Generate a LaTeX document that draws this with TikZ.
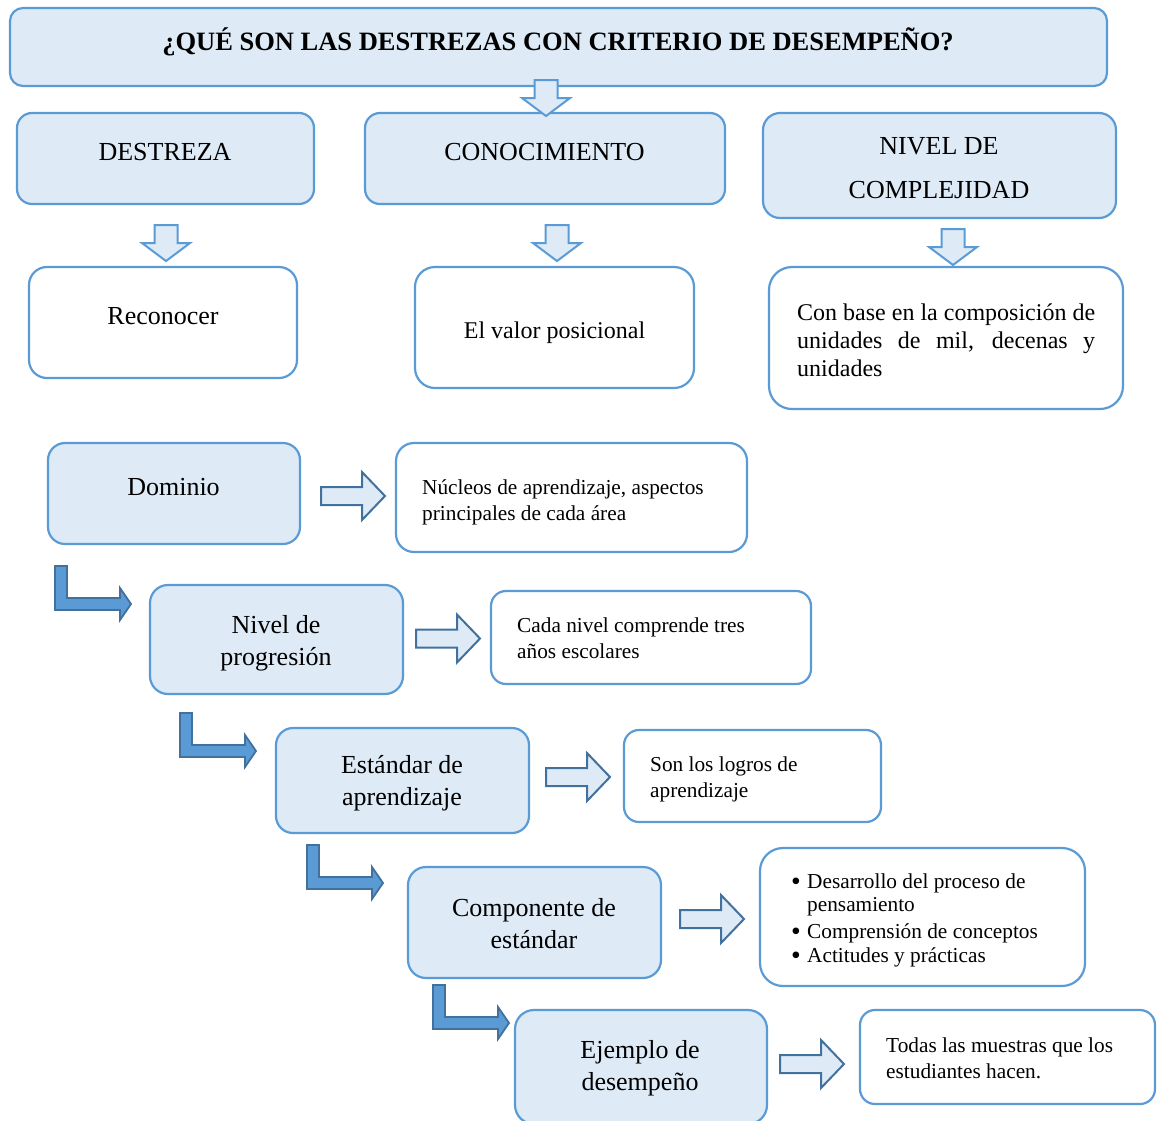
\documentclass[tikz,border=0pt]{standalone}
\usepackage{fontspec}
\setmainfont{Liberation Serif}
\definecolor{lfill}{HTML}{DEEBF7}
\definecolor{bord}{HTML}{5B9BD5}
\definecolor{dbord}{HTML}{41719C}
\newcommand{\bul}{\makebox[16pt][l]{\smash{\raisebox{-2.2pt}{\scalebox{1.3}{•}}}}}
\tikzset{
  fbox/.style={draw=bord, line width=2.2pt, fill=lfill, inner sep=0pt},
  wbox/.style={draw=bord, line width=2.2pt, fill=white, inner sep=0pt},
  txt/.style={inner sep=0pt, text=black},
  bigf/.style={font=\fontsize{26}{31.7}\selectfont},
  midf/.style={font=\fontsize{24}{28.3}\selectfont},
  smallf/.style={font=\fontsize{21.3}{25.5}\selectfont},
  pics/downarrow/.style={code={
    \draw[draw=bord, line width=2pt, fill=lfill, line join=miter]
      (-11.5,0) -- (11.5,0) -- (11.5,18) -- (24,18) -- (0,36) -- (-24,18) -- (-11.5,18) -- cycle;}},
  pics/rightarrow/.style={code={
    \draw[draw=dbord, line width=2pt, fill=lfill, line join=miter]
      (0,-9) -- (41,-9) -- (41,-24) -- (64,0) -- (41,24) -- (41,9) -- (0,9) -- cycle;}},
  pics/bentarrow/.style={code={
    \draw[draw=dbord, line width=1.8pt, fill=bord, line join=miter]
      (0,0) -- (12,0) -- (12,32) -- (65,32) -- (65,22) -- (76,38) -- (65,54) -- (65,44) -- (0,44) -- cycle;}}
}
\begin{document}
\begin{tikzpicture}[x=1pt,y=-1pt]
\path[use as bounding box, fill=white] (0,0) rectangle (1158,1120);
\clip (0,0) rectangle (1158,1120);

% ---- boxes ----
\node[fbox, minimum width=1097pt, minimum height=78pt, rounded corners=13pt] (title) at (558.5,47) {};
\node[fbox, minimum width=297pt, minimum height=91pt, rounded corners=15pt] (destreza) at (165.5,158.5) {};
\node[fbox, minimum width=360pt, minimum height=91pt, rounded corners=15pt] (conoc) at (545,158.5) {};
\node[fbox, minimum width=353pt, minimum height=105pt, rounded corners=17pt] (nivel) at (939.5,165.5) {};
\node[wbox, minimum width=268pt, minimum height=111pt, rounded corners=18pt] (recon) at (163,322.5) {};
\node[wbox, minimum width=279pt, minimum height=121pt, rounded corners=20pt] (valor) at (554.5,327.5) {};
\node[wbox, minimum width=354pt, minimum height=142pt, rounded corners=23pt] (conbase) at (946,338) {};
\node[fbox, minimum width=252pt, minimum height=101pt, rounded corners=17pt] (dominio) at (174,493.5) {};
\node[wbox, minimum width=351pt, minimum height=109pt, rounded corners=18pt] (nucleos) at (571.5,497.5) {};
\node[fbox, minimum width=253pt, minimum height=109pt, rounded corners=18pt] (nivprog) at (276.5,639.5) {};
\node[wbox, minimum width=320pt, minimum height=93pt, rounded corners=15pt] (cada) at (651,637.5) {};
\node[fbox, minimum width=253pt, minimum height=105pt, rounded corners=17pt] (estandar) at (402.5,780.5) {};
\node[wbox, minimum width=257pt, minimum height=92pt, rounded corners=15pt] (logros) at (752.5,776) {};
\node[fbox, minimum width=253pt, minimum height=111pt, rounded corners=18pt] (compon) at (534.5,922.5) {};
\node[wbox, minimum width=325pt, minimum height=138pt, rounded corners=23pt] (bullets) at (922.5,917) {};
\node[fbox, minimum width=252pt, minimum height=114pt, rounded corners=19pt] (ejemplo) at (641,1067) {};
\node[wbox, minimum width=295pt, minimum height=94pt, rounded corners=15pt] (todas) at (1007.5,1057) {};

% ---- texts (multi-line: base = last line) ----
\node[txt, anchor=base, font=\fontsize{26.5}{30}\selectfont\bfseries] (title-t) at (558,50) {¿QUÉ SON LAS DESTREZAS CON CRITERIO DE DESEMPEÑO?};
\node[txt, bigf, anchor=base] (destreza-t) at (165,160) {DESTREZA};
\node[txt, bigf, anchor=base] (conoc-t) at (544.5,160) {CONOCIMIENTO};
\node[txt, anchor=base, align=center, font=\fontsize{26}{44}\selectfont] (nivel-t) at (939,198.5) {NIVEL DE\\COMPLEJIDAD};
\node[txt, bigf, anchor=base] (recon-t) at (163,324) {Reconocer};
\node[txt, midf, anchor=base] (valor-t) at (554.5,338) {El valor posicional};
\node[txt, midf, anchor=base west, text width=298pt, align=justify] (conbase-t) at (797,320)
  {Con base en la composición de\linebreak unidades de mil, decenas y\linebreak unidades};
\node[txt, bigf, anchor=base] (dominio-t) at (173.5,495) {Dominio};
\node[txt, smallf, anchor=base west, align=left] (nucleos-t) at (422,520) {Núcleos de aprendizaje, aspectos\\principales de cada área};
\node[txt, bigf, anchor=base, align=center] (nivprog-t) at (276,665) {Nivel de\\progresión};
\node[txt, smallf, anchor=base west, align=left] (cada-t) at (517,658) {Cada nivel comprende tres\\años escolares};
\node[txt, bigf, anchor=base, align=center] (estandar-t) at (402,805.5) {Estándar de\\aprendizaje};
\node[txt, smallf, anchor=base west, align=left] (logros-t) at (650,797) {Son los logros de\\aprendizaje};
\node[txt, bigf, anchor=base, align=center] (compon-t) at (534,948.5) {Componente de\\estándar};
\node[txt, anchor=base west, align=left, font=\fontsize{21.3}{23.5}\selectfont] (bullets-t) at (791,962)
  {\bul Desarrollo del proceso de\\\hspace*{16pt}pensamiento\\[3.5pt]
   \bul Comprensión de conceptos\\\bul Actitudes y prácticas};
\node[txt, bigf, anchor=base, align=center] (ejemplo-t) at (640,1090.5) {Ejemplo de\\desempeño};
\node[txt, smallf, anchor=base west, align=left] (todas-t) at (886,1078) {Todas las muestras que los\\estudiantes hacen.};

% ---- block arrows ----
\pic at (546,80) {downarrow};
\pic at (166,225) {downarrow};
\pic at (557,225) {downarrow};
\pic at (953,229) {downarrow};

\pic at (321,496) {rightarrow};
\pic at (416,638.5) {rightarrow};
\pic at (546,777) {rightarrow};
\pic at (680,919) {rightarrow};
\pic at (780,1064) {rightarrow};

\pic at (55,566) {bentarrow};
\pic at (180,713) {bentarrow};
\pic at (307,845) {bentarrow};
\pic at (433,985) {bentarrow};
\end{tikzpicture}
\end{document}
